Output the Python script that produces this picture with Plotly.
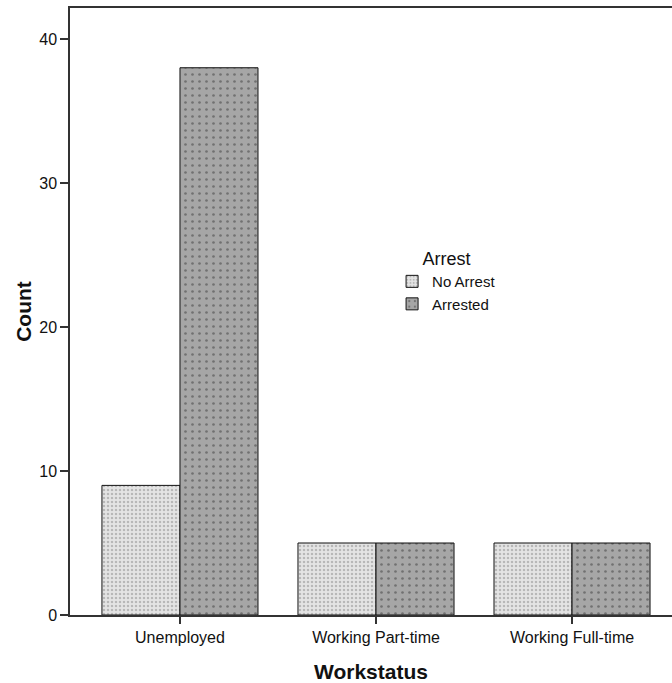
import plotly.graph_objects as go

categories = ["Unemployed", "Working Part-time", "Working Full-time"]
no_arrest = [9, 5, 5]
arrested = [38, 5, 5]
y_ticks = [0, 10, 20, 30, 40]

fig = go.Figure()
fig.add_trace(go.Bar(
    x=categories, y=no_arrest, name="No Arrest",
    marker=dict(color="#e4e4e4", line=dict(color="#111", width=1),
                pattern=dict(shape=".", size=4, solidity=0.3, fgcolor="#8c8c8c")),
))
fig.add_trace(go.Bar(
    x=categories, y=arrested, name="Arrested",
    marker=dict(color="#a6a6a6", line=dict(color="#111", width=1),
                pattern=dict(shape=".", size=7, solidity=0.12, fgcolor="#3c3c3c")),
))

font = "Liberation Sans, Arial, sans-serif"
fig.update_layout(
    width=672, height=683,
    margin=dict(l=70, r=0, t=8, b=68),
    barmode="group", bargap=0.204, bargroupgap=0,
    plot_bgcolor="white", paper_bgcolor="white",
    font=dict(family=font, size=16, color="#111"),
    showlegend=True,
    legend=dict(
        x=0.535, y=0.615, xanchor="left", yanchor="top",
        title=dict(text="Arrest", side="top center", font=dict(size=18)),
        font=dict(size=15), bgcolor="rgba(0,0,0,0)",
        itemwidth=30, tracegroupgap=0,
    ),
    xaxis=dict(
        range=[-0.561, 2.51], showline=True, linecolor="#333", linewidth=1.5,
        mirror=True, ticks="outside", ticklen=7, tickcolor="#333", tickwidth=1.5,
        showgrid=False, zeroline=False,
        title=dict(text="<b>Workstatus</b>", font=dict(size=21), standoff=20),
        tickfont=dict(size=16),
    ),
    yaxis=dict(
        range=[0, 42.15], tickvals=y_ticks, showline=True, linecolor="#333", linewidth=1.5,
        ticks="outside", ticklen=8, tickcolor="#333", tickwidth=1.5,
        showgrid=False, zeroline=False,
        title=dict(text="<b>Count</b>", font=dict(size=21), standoff=2),
        tickfont=dict(size=16),
    ),
)
fig.write_html("out.html", config={"displayModeBar": False},
               post_script="document.body.style.margin='0';")
